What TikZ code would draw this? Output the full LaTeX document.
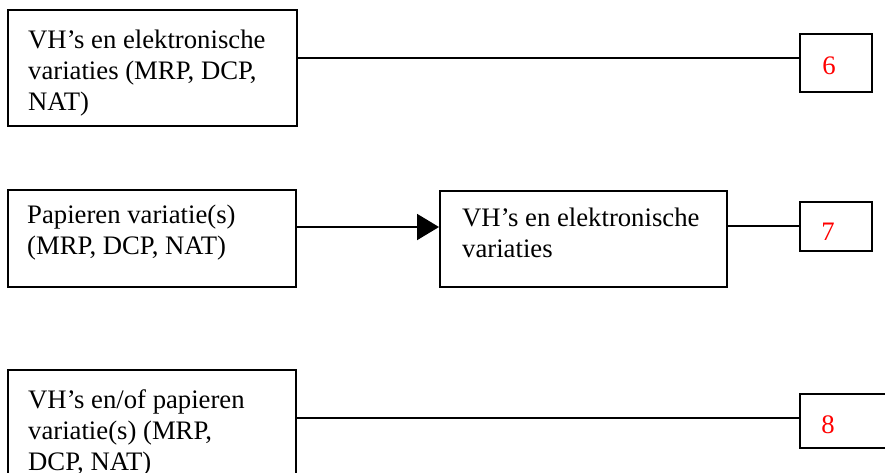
\documentclass[tikz,border=0pt]{standalone}
\usepackage{fontspec}
\setmainfont{Liberation Serif}
\usepackage{tikz}
\usetikzlibrary{arrows.meta,positioning}
\usepackage{xcolor}
\tikzstyle{vakje} = [draw, line width=2pt, rectangle, inner sep=0pt]
\tikzstyle{tekst} = [anchor=base west, inner sep=0pt, align=left, font=\fontsize{26.7}{31}\selectfont]
\tikzstyle{nummer} = [anchor=base, inner sep=0pt, text=red, font=\fontsize{26.7}{31}\selectfont]
\tikzstyle{lijn} = [line width=2pt]
\tikzstyle{pijl} = [line width=2pt,-{Triangle[length=22pt,width=26pt]}]

\begin{document}
\begin{tikzpicture}[x=1pt, y=-1pt]
\useasboundingbox (0,0) rectangle (885,472);

% Eerste rij (tekst: basislijn van de laatste regel)
\node[vakje, minimum width=289pt, minimum height=116pt] (vhA) at (152.5,68) {};
\node[tekst] (vhAtxt) at (28,110) {VH’s en elektronische\\variaties (MRP, DCP,\\NAT)};
\node[vakje, minimum width=72pt, minimum height=58pt] (zes) at (836,63) {};
\node[nummer] (zestxt) at (829,74) {6};
\draw[lijn] ([yshift=10pt]vhA.east) coordinate (a6) -- (a6 -| zes.west);

% Tweede rij
\node[vakje, minimum width=288pt, minimum height=97pt] (pap) at (152,238.5) {};
\node[tekst] (paptxt) at (27,254) {Papieren variatie(s)\\(MRP, DCP, NAT)};
\node[vakje, minimum width=287pt, minimum height=96pt] (vhC) at (583.5,239) {};
\node[tekst] (vhCtxt) at (462,257) {VH’s en elektronische\\variaties};
\node[vakje, minimum width=72pt, minimum height=49pt] (zeven) at (836,226.5) {};
\node[nummer] (zeventxt) at (828,240) {7};
\draw[pijl] ([yshift=11.5pt]pap.east) coordinate (bc) -- (bc -| vhC.west);
\draw[lijn] ([yshift=13pt]vhC.east) coordinate (c7) -- (c7 -| zeven.west);

% Derde rij
\node[vakje, minimum width=288pt, minimum height=120pt] (vhD) at (152,430) {};
\node[tekst] (vhDtxt) at (28,470) {VH’s en/of papieren\\variatie(s) (MRP,\\DCP, NAT)};
\node[vakje, minimum width=160pt, minimum height=54pt] (acht) at (880,421) {};
\node[nummer] (achttxt) at (828,433) {8};
\draw[lijn] ([yshift=12pt]vhD.east) coordinate (d8) -- (d8 -| acht.west);
\end{tikzpicture}
\end{document}
